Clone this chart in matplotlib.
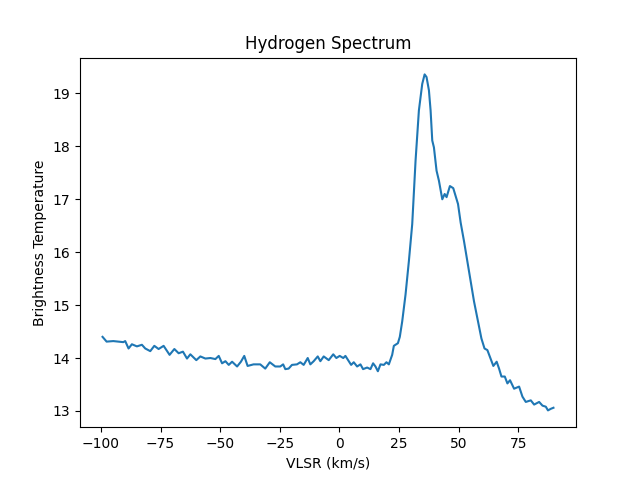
import matplotlib
matplotlib.use("Agg")
import matplotlib.pyplot as plt

# velocity (km/s) and brightness temperature
vlsr = [-99.3, -97.6, -94.8, -90.6, -89.8, -88.4, -87.0, -84.9, -82.8, -81.4,
        -79.3, -77.6, -75.8, -73.7, -71.2, -69.2, -67.4, -65.6, -63.9, -62.5,
        -60.0, -58.3, -56.2, -54.1, -52.0, -50.6, -49.2, -47.8, -46.4, -45.0,
        -42.9, -41.3, -39.9, -38.5, -36.0, -33.2, -31.1, -29.2, -26.9, -24.8,
        -23.6, -22.7, -21.3, -19.9, -17.8, -16.4, -15.0, -13.3, -12.2, -10.8,
        -9.1, -8.0, -6.6, -4.5, -2.6, -1.3, 0.1, 1.6, 2.5, 3.9,
        4.9, 6.0, 7.4, 8.8, 9.9, 11.6, 13.0, 14.1, 15.1, 16.1,
        17.2, 18.6, 19.7, 20.7, 22.1, 22.8, 24.5, 25.3, 26.3, 27.7,
        29.1, 30.5, 31.9, 33.3, 34.7, 35.7, 36.5, 37.5, 38.2, 38.9,
        39.6, 40.7, 41.7, 43.1, 44.1, 44.9, 46.3, 47.7, 48.7, 49.7,
        50.8, 52.2, 53.6, 54.3, 56.4, 58.1, 59.5, 60.8, 62.0, 63.4,
        64.5, 65.9, 66.9, 67.9, 69.3, 70.4, 71.5, 73.2, 75.3, 76.7,
        78.1, 80.2, 81.6, 83.7, 85.1, 86.5, 87.4, 88.6, 89.7]
temp = [14.40, 14.31, 14.32, 14.30, 14.32, 14.18, 14.26, 14.22, 14.25, 14.18,
        14.13, 14.23, 14.17, 14.23, 14.06, 14.17, 14.09, 14.12, 13.99, 14.07,
        13.96, 14.03, 13.99, 14.00, 13.98, 14.04, 13.90, 13.94, 13.87, 13.93,
        13.84, 13.93, 14.04, 13.85, 13.88, 13.88, 13.80, 13.92, 13.84, 13.84,
        13.88, 13.79, 13.80, 13.87, 13.88, 13.92, 13.87, 14.00, 13.88, 13.94,
        14.03, 13.94, 14.03, 13.96, 14.07, 14.00, 14.04, 14.00, 14.04, 13.94,
        13.87, 13.92, 13.84, 13.88, 13.79, 13.82, 13.79, 13.90, 13.84, 13.75,
        13.88, 13.87, 13.92, 13.88, 14.06, 14.23, 14.28, 14.40, 14.69, 15.20,
        15.83, 16.53, 17.73, 18.68, 19.18, 19.36, 19.31, 19.06, 18.68, 18.11,
        17.98, 17.54, 17.35, 17.00, 17.10, 17.04, 17.25, 17.21, 17.06, 16.91,
        16.56, 16.21, 15.83, 15.64, 15.07, 14.69, 14.37, 14.18, 14.15, 13.98,
        13.85, 13.93, 13.80, 13.65, 13.65, 13.52, 13.58, 13.42, 13.46, 13.27,
        13.17, 13.20, 13.12, 13.17, 13.10, 13.08, 13.01, 13.04, 13.06]

fig, ax = plt.subplots(figsize=(6.4, 4.8), dpi=100)
ax.plot(vlsr, temp)
ax.set_title("Hydrogen Spectrum")
ax.set_xlabel("VLSR (km/s)")
ax.set_ylabel("Brightness Temperature")
fig.savefig("out.png")
